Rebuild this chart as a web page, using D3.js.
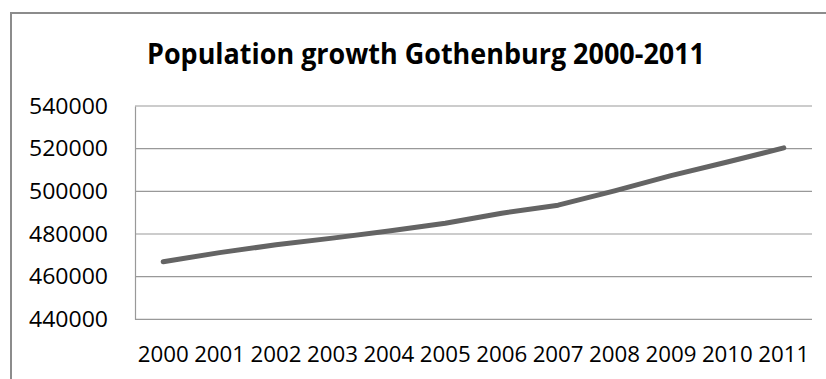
<!DOCTYPE html>
<html>
<head>
<meta charset="utf-8">
<script src="https://cdn.jsdelivr.net/npm/d3@7/dist/d3.min.js"></script>
<style>
  html, body { margin: 0; padding: 0; background: #fff; }
  svg { display: block; }
  text { font-family: "Open Sans", "Liberation Sans", sans-serif; fill: #000; }
</style>
</head>
<body>
<svg id="chart" width="826" height="379"></svg>
<script>
// Population of Gothenburg, 2000–2011
const years = ["2000","2001","2002","2003","2004","2005","2006","2007","2008","2009","2010","2011"];
const population = [466990, 471267, 474921, 478055, 481410, 484993, 489757, 493502, 500197, 507330, 513751, 520374];
const yTicks = [440000, 460000, 480000, 500000, 520000, 540000];
const title = "Population growth Gothenburg 2000-2011";

const svg = d3.select("#chart");
const plot = { left: 135, right: 812, top: 106, bottom: 319.3 };

// outer chart frame (runs past the right and bottom edges)
svg.append("rect")
  .attr("x", 11).attr("y", 13)
  .attr("width", 830).attr("height", 380)
  .attr("fill", "#fff")
  .attr("stroke", "#8c8c8c")
  .attr("stroke-width", 2);

svg.append("text")
  .attr("x", 426).attr("y", 63.5)
  .attr("text-anchor", "middle")
  .style("font-size", "28px")
  .style("font-weight", "bold")
  .attr("textLength", 558)
  .attr("lengthAdjust", "spacingAndGlyphs")
  .text(title);

const x = d3.scaleBand().domain(years).range([plot.left, plot.right]);
const y = d3.scaleLinear().domain([440000, 540000]).range([plot.bottom, plot.top]);

// horizontal gridlines
svg.append("g")
  .selectAll("line")
  .data(yTicks)
  .join("line")
  .attr("x1", plot.left).attr("x2", plot.right)
  .attr("y1", d => y(d)).attr("y2", d => y(d))
  .attr("stroke", "#999")
  .attr("stroke-width", 1.2);

// value axis
const yAxis = svg.append("g")
  .attr("transform", `translate(${plot.left},0)`)
  .call(d3.axisLeft(y).tickValues(yTicks).tickFormat(d3.format("d")).tickSize(0).tickPadding(27));
yAxis.select(".domain").attr("stroke", "#999").attr("stroke-width", 1.2);
yAxis.selectAll("text")
  .style("font-size", "22px")
  .style("font-family", "'Open Sans', 'Liberation Sans', sans-serif")
  .attr("fill", "#000")
  .attr("textLength", 79)
  .attr("lengthAdjust", "spacingAndGlyphs");

// category axis
const xAxis = svg.append("g")
  .attr("transform", `translate(0,${plot.bottom})`)
  .call(d3.axisBottom(x).tickSize(0).tickPadding(0));
xAxis.select(".domain").remove();
xAxis.selectAll("text")
  .style("font-size", "22px")
  .style("font-family", "'Open Sans', 'Liberation Sans', sans-serif")
  .attr("fill", "#000")
  .attr("dy", null)
  .attr("y", 42.5)
  .attr("textLength", 51)
  .attr("lengthAdjust", "spacingAndGlyphs");

// population line
const line = d3.line()
  .x((d, i) => x(years[i]) + x.bandwidth() / 2)
  .y(d => y(d));

svg.append("path")
  .datum(population)
  .attr("d", line)
  .attr("fill", "none")
  .attr("stroke", "#646464")
  .attr("stroke-width", 5)
  .attr("stroke-linecap", "round")
  .attr("stroke-linejoin", "round");
</script>
</body>
</html>
